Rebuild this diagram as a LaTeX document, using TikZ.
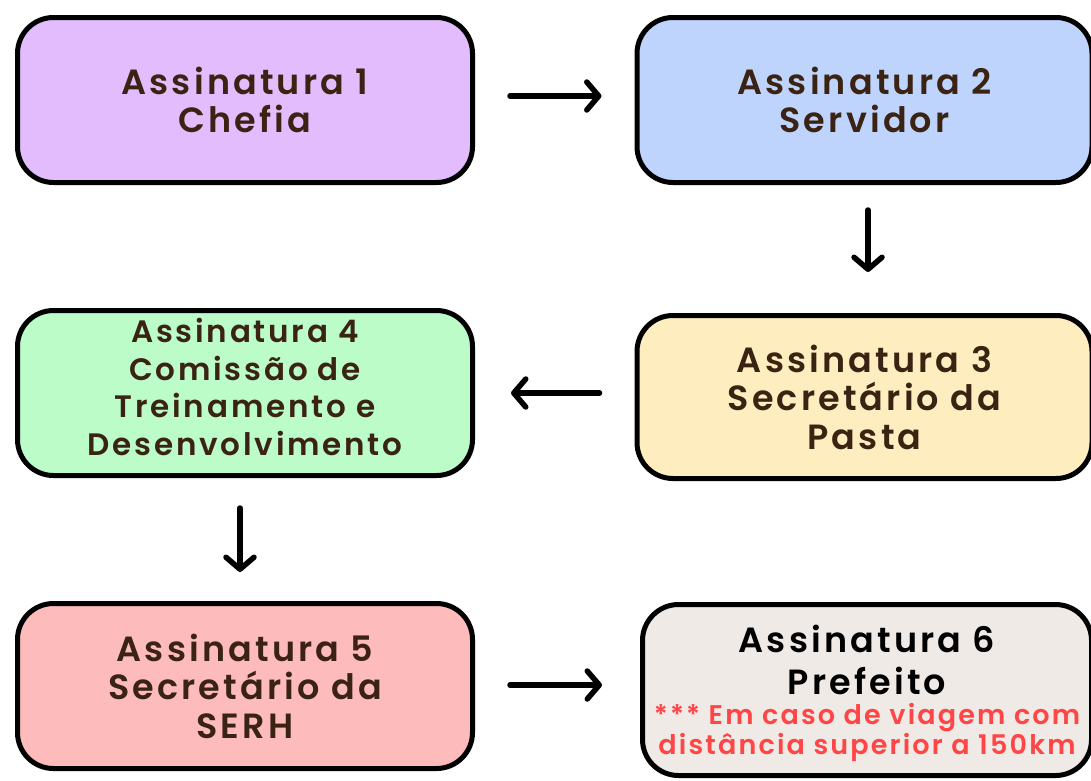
\documentclass[tikz,border=0pt]{standalone}
\usepackage{fontspec}
\setmainfont{Poppins}[BoldFont={* SemiBold}]
\usetikzlibrary{arrows.meta}
\definecolor{txt}{HTML}{3B2314}
\definecolor{redtxt}{HTML}{FF4545}
\definecolor{c1}{HTML}{E2BCFC}
\definecolor{c2}{HTML}{BFD4FD}
\definecolor{c3}{HTML}{FEEDBE}
\definecolor{c4}{HTML}{BBFCC8}
\definecolor{c5}{HTML}{FDBBBB}
\definecolor{c6}{HTML}{EFEAE6}
\tikzset{
  stepbox/.style={draw=black, line width=5pt, rounded corners=36pt, minimum width=455pt,
    minimum height=165pt, inner sep=0pt, align=center, text=txt,
    font=\bfseries\fontsize{35}{38.5}\selectfont\addfontfeatures{LetterSpace=9}},
  smallbox/.style={font=\bfseries\fontsize{31}{37.5}\selectfont\addfontfeatures{LetterSpace=9}},
  flow/.style={line width=5.5pt, line cap=round,
    -{Straight Barb[length=12pt,width=28pt,line cap=round,line join=round]}}
}
\newcommand{\redline}[1]{{\color{redtxt}\fontsize{27}{29}\selectfont\addfontfeatures{LetterSpace=8}#1}}
\begin{document}
\begin{tikzpicture}[x=1pt,y=-1pt]
\useasboundingbox[fill=white] (0,0) rectangle (1091,780);
\node[stepbox, fill=c1] (b1) at (245,100) {Assinatura 1\\Chefia};
\node[stepbox, fill=c2] (b2) at (864.5,100) {Assinatura 2\\Servidor};
\node[stepbox, fill=c3, minimum height=163pt] (b3) at (864.5,397) {Assinatura 3\\Secretário da\\Pasta};
\node[stepbox, smallbox, fill=c4] (b4) at (245,393) {Assinatura 4\\Comissão de\\Treinamento e\\Desenvolvimento\rule[-12pt]{0pt}{12pt}};
\node[stepbox, fill=c5] (b5) at (245,686) {Assinatura 5\\Secretário da\\SERH};
\node[stepbox, fill=c6, minimum width=449pt, minimum height=171pt, text=black] (b6) at (867,690)
  {\rule{0pt}{34pt}Assinatura 6\\[4pt]Prefeito\\[-9pt]\redline{*** Em caso de viagem com}\\[-8pt]\redline{distância superior a 150km}};
\draw[flow, shorten <=35pt, shorten >=33pt] ([yshift=4pt]b1.east) -- ([yshift=4pt]b2.west);
\draw[flow, shorten <=25pt, shorten >=41pt] ([xshift=3.5pt]b2.south) -- ([xshift=3.5pt]b3.north);
\draw[flow, shorten <=35pt, shorten >=36pt] ([yshift=4pt]b3.west) -- (b4.east);
\draw[flow, shorten <=30pt, shorten >=29pt] ([xshift=-5pt]b4.south) -- ([xshift=-5pt]b5.north);
\draw[flow, shorten <=35pt, shorten >=38pt] ([yshift=1pt]b5.east) -- ([yshift=5pt]b6.west);
\end{tikzpicture}
\end{document}
